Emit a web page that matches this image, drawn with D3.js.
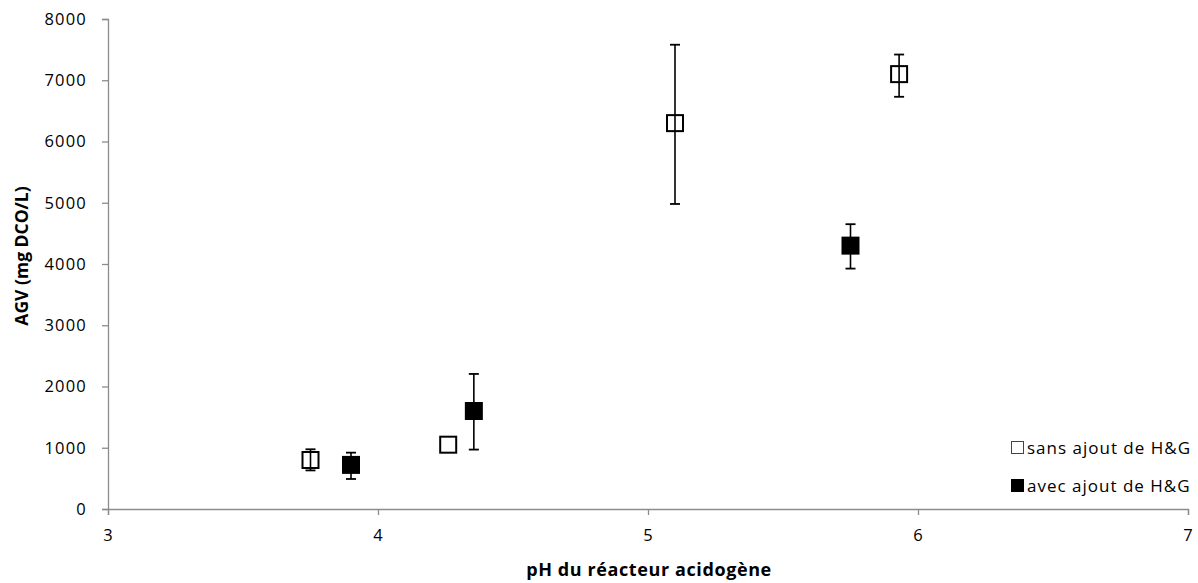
<!DOCTYPE html>
<html><head><meta charset="utf-8">
<script src="https://cdn.jsdelivr.net/npm/d3@7"></script>
<style>body{margin:0;background:#fff}svg{display:block}text{font-family:"Open Sans","Noto Sans",sans-serif}</style>
</head><body>
<svg id="c" width="1198" height="583"></svg>
<script>
const sansPH = [3.75, 4.26, 5.10, 5.93];
const sansAGV = [800, 1050, 6300, 7100];
const sansLow = [630, 1050, 4980, 6730];
const sansHigh = [975, 1050, 7580, 7420];
const avecPH = [3.90, 4.355, 5.75];
const avecAGV = [720, 1600, 4300];
const avecLow = [490, 970, 3925];
const avecHigh = [920, 2205, 4650];
const xTicks = [3, 4, 5, 6, 7];
const yTicks = [0, 1000, 2000, 3000, 4000, 5000, 6000, 7000, 8000];
const seriesNames = ["sans ajout de H&G", "avec ajout de H&G"];

const svg = d3.select("#c");
const x = d3.scaleLinear().domain([3, 7]).range([108, 1188]);
const y = d3.scaleLinear().domain([0, 8000]).range([509, 19]);
const axisCol = "#8c8c8c";

const gx = svg.append("g").attr("transform", `translate(0,${y(0)})`)
  .call(d3.axisBottom(x).tickValues(xTicks).tickSize(6).tickPadding(14).tickFormat(d3.format("d")));
const gy = svg.append("g").attr("transform", `translate(${x(3)},0)`)
  .call(d3.axisLeft(y).tickValues(yTicks).tickSize(6).tickPadding(15).tickFormat(d3.format("d")));
[gx, gy].forEach(g => {
  g.select(".domain").attr("stroke", axisCol).attr("stroke-width", 1.3);
  g.selectAll(".tick line").attr("stroke", axisCol).attr("stroke-width", 1.3);
  g.selectAll(".tick text").attr("fill", "#000").style("font-size", "16.5px")
    .style("letter-spacing", "1.2px").style("font-family", '"Open Sans",sans-serif');
});

function series(px, py, lo, hi, filled) {
  const g = svg.append("g");
  const data = px.map((d, i) => ({x: d, y: py[i], lo: lo[i], hi: hi[i]}));
  const eb = g.selectAll(".eb").data(data.filter(d => d.hi > d.lo)).enter().append("g");
  eb.append("line").attr("x1", d => x(d.x)).attr("x2", d => x(d.x))
    .attr("y1", d => y(d.lo)).attr("y2", d => y(d.hi)).attr("stroke", "#000").attr("stroke-width", 1.6);
  ["lo", "hi"].forEach(k => eb.append("line").attr("x1", d => x(d.x) - 5).attr("x2", d => x(d.x) + 5)
    .attr("y1", d => y(d[k])).attr("y2", d => y(d[k])).attr("stroke", "#000").attr("stroke-width", 1.8));
  const s = 16;
  g.selectAll("rect").data(data).enter().append("rect")
    .attr("x", d => x(d.x) - s / 2).attr("y", d => y(d.y) - s / 2)
    .attr("width", s).attr("height", s)
    .attr("fill", filled ? "#000" : "none").attr("stroke", "#000").attr("stroke-width", 2);
}
series(sansPH, sansAGV, sansLow, sansHigh, false);
series(avecPH, avecAGV, avecLow, avecHigh, true);

// legend
const leg = svg.append("g");
seriesNames.forEach((n, i) => {
  const yy = 448 + i * 38;
  leg.append("rect").attr("x", 1011.5).attr("y", yy - 6.5).attr("width", 12).attr("height", 12)
    .attr("fill", i ? "#000" : "#fff").attr("stroke", i ? "#000" : "#444").attr("stroke-width", 1);
  leg.append("text").attr("x", 1027).attr("y", yy + 6).style("font-size", "17px")
    .style("letter-spacing", "1px").text(n);
});

svg.append("text").attr("x", 649).attr("y", 576).attr("text-anchor", "middle")
  .style("font-size", "18px").style("font-weight", "bold").style("letter-spacing", "0.6px")
  .text("pH du réacteur acidogène");
svg.append("text").attr("transform", "translate(28,256) rotate(-90)").attr("text-anchor", "middle")
  .style("font-size", "17.5px").style("font-weight", "bold").text("AGV (mg DCO/L)");
</script>
</body></html>
